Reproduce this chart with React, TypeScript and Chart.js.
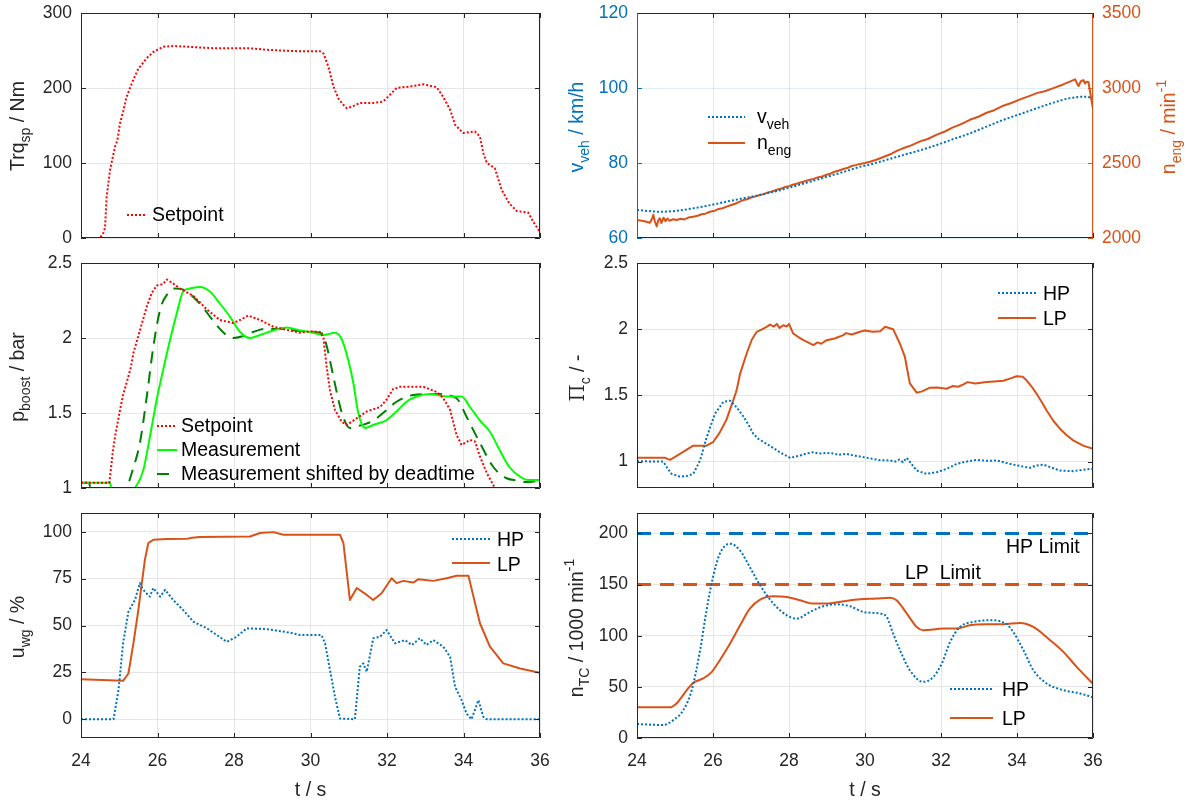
import React, { useEffect, useRef } from 'react';
import { Chart, registerables } from 'chart.js';
Chart.register(...registerables);

const FONT = '"Liberation Sans", Arial, Helvetica, sans-serif';
const AX = '#262626';
const GRID = '#E6E6E6';
const BLUE = '#0072BD';
const ORANGE = '#D95319';
const RED = '#FF0000';
const GREEN = '#00FF00';
const DKGREEN = '#008000';
const TICK_SIZE = 17.5;
const TEXT_SIZE = 19.5;

type P = [number, number];

const tTicks = [24, 26, 28, 30, 32, 34, 36];

// ---- Row 1 left: torque setpoint [t, Nm]
const trqSp: P[] = [[24,0],[24.5,0],[24.6,8],[24.63,15],[24.67,55],[24.76,91],[24.89,122],[24.95,130],[25.02,153],[25.1,168],[25.19,188],[25.28,200],[25.37,211],[25.5,226],[25.6,232],[25.72,240],[25.89,248],[26.0,251],[26.15,255],[26.41,256],[26.8,255],[27.11,254],[27.5,253],[27.98,253],[28.4,253],[28.85,251],[29.2,250],[29.73,249],[30.25,249],[30.34,246],[30.47,228],[30.6,202],[30.73,186],[30.85,178],[30.95,173],[31.08,175],[31.29,180],[31.64,180],[31.9,182],[32.08,191],[32.25,200],[32.6,202],[32.95,205],[33.3,201],[33.47,188],[33.65,171],[33.78,151],[33.99,140],[34.3,142],[34.43,135],[34.52,113],[34.61,100],[34.82,93],[35.0,64],[35.2,46],[35.39,36],[35.69,34],[35.82,22],[35.96,11],[36,8]];

// ---- Row 1 right: vehicle speed [km/h] and engine speed [1/min]
const vVeh: P[] = [[24,67.5],[24.6,67],[25.0,67.2],[25.47,67.9],[25.9,68.7],[26.36,69.7],[26.8,70.6],[27.24,71.5],[27.7,72.6],[28.1,73.7],[28.55,75.0],[28.99,76.3],[29.43,77.6],[29.87,79],[30.13,79.6],[30.55,80.8],[31.0,82.1],[31.45,83.4],[31.89,84.8],[32.3,86.3],[32.76,87.9],[33.2,89.7],[33.64,91.5],[34.1,93.1],[34.52,94.6],[34.96,96.1],[35.39,97.3],[35.83,97.7],[36,97]];
const nEng: P[] = [[24,2120],[24.2,2112],[24.34,2102],[24.4,2130],[24.43,2155],[24.47,2110],[24.52,2078],[24.56,2118],[24.6,2132],[24.64,2100],[24.7,2135],[24.75,2112],[24.8,2130],[24.86,2115],[24.95,2125],[25.04,2120],[25.15,2128],[25.25,2124],[25.35,2136],[25.48,2142],[25.6,2148],[25.7,2158],[25.8,2162],[25.92,2175],[26.05,2182],[26.15,2194],[26.25,2198],[26.36,2209],[26.5,2222],[26.6,2230],[26.7,2242],[26.8,2253],[26.9,2258],[27.0,2270],[27.1,2276],[27.24,2287],[27.35,2294],[27.45,2304],[27.55,2310],[27.68,2322],[27.8,2330],[27.9,2340],[28.0,2346],[28.1,2355],[28.2,2362],[28.3,2370],[28.42,2378],[28.55,2389],[28.65,2394],[28.75,2404],[28.87,2410],[28.99,2422],[29.1,2430],[29.2,2442],[29.3,2448],[29.43,2460],[29.55,2468],[29.65,2480],[29.75,2486],[29.87,2494],[30.0,2500],[30.13,2508],[30.3,2522],[30.5,2542],[30.7,2562],[30.85,2582],[31.0,2598],[31.2,2616],[31.45,2644],[31.65,2660],[31.89,2689],[32.1,2710],[32.3,2736],[32.5,2756],[32.76,2788],[33.0,2810],[33.2,2835],[33.4,2852],[33.64,2882],[33.85,2900],[34.1,2926],[34.3,2944],[34.52,2966],[34.75,2980],[34.96,2999],[35.2,3022],[35.39,3042],[35.53,3058],[35.58,3030],[35.62,3013],[35.68,3045],[35.75,3053],[35.79,3030],[35.83,3042],[35.88,3040],[36,2860]];

// ---- Row 2 left: boost pressure [bar]
const pSetpoint: P[] = [[24,1.035],[24.74,1.035],[24.78,1.12],[24.83,1.24],[24.89,1.342],[25.02,1.52],[25.1,1.62],[25.19,1.70],[25.3,1.8],[25.37,1.9],[25.54,2.05],[25.72,2.21],[25.85,2.30],[25.98,2.35],[26.15,2.36],[26.24,2.39],[26.37,2.37],[26.59,2.33],[26.94,2.28],[27.1,2.24],[27.29,2.19],[27.63,2.12],[27.98,2.10],[28.16,2.12],[28.37,2.15],[28.68,2.12],[29.03,2.075],[29.46,2.05],[29.73,2.035],[30.0,2.045],[30.25,2.04],[30.34,2.0],[30.42,1.81],[30.51,1.65],[30.64,1.52],[30.82,1.44],[30.95,1.42],[31.21,1.465],[31.47,1.51],[31.82,1.54],[31.99,1.59],[32.16,1.66],[32.34,1.675],[32.95,1.675],[33.3,1.64],[33.47,1.60],[33.65,1.52],[33.82,1.353],[33.95,1.287],[34.17,1.32],[34.3,1.31],[34.43,1.21],[34.61,1.1],[34.82,1.0],[35.0,0.9]];
const pMeas: P[] = [[24,1.035],[24.76,1.035],[24.8,0.99],[25.35,0.99],[25.41,1.0],[25.63,1.12],[25.8,1.34],[25.98,1.59],[26.15,1.79],[26.33,1.99],[26.5,2.16],[26.67,2.31],[26.85,2.33],[27.11,2.34],[27.37,2.31],[27.63,2.23],[27.9,2.14],[28.16,2.04],[28.42,2.0],[28.68,2.02],[29.03,2.05],[29.38,2.07],[29.73,2.05],[29.99,2.04],[30.34,2.02],[30.64,2.035],[30.82,1.99],[30.99,1.85],[31.12,1.70],[31.25,1.50],[31.43,1.40],[31.64,1.42],[31.99,1.453],[32.25,1.51],[32.51,1.575],[32.77,1.61],[33.12,1.627],[33.56,1.61],[33.95,1.61],[34.17,1.54],[34.43,1.45],[34.69,1.375],[34.95,1.25],[35.2,1.14],[35.48,1.075],[35.69,1.053],[36,1.053]];
const pShifted: P[] = [[24,1.035],[24.2,1.035],[24.28,0.98],[25.1,0.98],[25.19,1.0],[25.35,1.12],[25.54,1.30],[25.72,1.61],[25.89,1.94],[26.07,2.19],[26.28,2.30],[26.45,2.33],[26.7,2.32],[26.95,2.27],[27.2,2.2],[27.5,2.1],[27.8,2.02],[27.98,2.0],[28.2,2.01],[28.5,2.04],[28.8,2.06],[29.2,2.06],[29.6,2.05],[30.0,2.04],[30.3,2.03],[30.42,1.95],[30.6,1.74],[30.82,1.50],[31.03,1.40],[31.21,1.41],[31.64,1.45],[31.99,1.52],[32.25,1.575],[32.69,1.62],[33.3,1.627],[33.73,1.61],[33.85,1.59],[34.08,1.475],[34.43,1.30],[34.78,1.14],[35.13,1.065],[35.4,1.05],[35.65,1.04],[36,1.05]];

// ---- Row 2 right: compressor pressure ratio [-]
const piHP: P[] = [[24,1.002],[24.69,1.0],[24.8,0.95],[24.91,0.907],[25.13,0.886],[25.3,0.89],[25.48,0.907],[25.66,1.008],[25.83,1.18],[26.05,1.36],[26.27,1.45],[26.45,1.46],[26.62,1.41],[26.8,1.34],[26.95,1.27],[27.06,1.21],[27.2,1.17],[27.41,1.134],[27.6,1.1],[27.76,1.07],[28.03,1.028],[28.29,1.045],[28.45,1.06],[28.64,1.07],[28.8,1.06],[28.99,1.065],[29.2,1.06],[29.3,1.05],[29.52,1.058],[29.7,1.045],[29.87,1.038],[30.2,1.02],[30.4,1.01],[30.66,1.008],[30.8,1.0],[30.9,1.015],[31.0,0.995],[31.1,1.028],[31.2,0.99],[31.36,0.932],[31.62,0.907],[31.9,0.92],[32.15,0.945],[32.4,0.98],[32.59,0.995],[32.94,1.013],[33.2,1.005],[33.47,1.008],[33.7,0.99],[33.9,0.977],[34.1,0.965],[34.34,0.952],[34.5,0.97],[34.69,0.977],[34.9,0.955],[35.13,0.932],[35.48,0.927],[35.8,0.94],[36,0.945]];
const piLP: P[] = [[24,1.028],[24.74,1.028],[24.87,1.013],[25.13,1.058],[25.48,1.12],[25.83,1.12],[26.0,1.146],[26.18,1.22],[26.36,1.32],[26.53,1.46],[26.6,1.52],[26.63,1.55],[26.71,1.66],[26.89,1.82],[27.02,1.92],[27.15,1.98],[27.3,2.0],[27.41,2.018],[27.5,2.035],[27.6,2.02],[27.68,2.04],[27.75,2.01],[27.85,2.03],[27.94,2.02],[28.0,2.04],[28.11,1.967],[28.25,1.94],[28.38,1.917],[28.5,1.9],[28.64,1.88],[28.75,1.9],[28.85,1.89],[28.99,1.917],[29.2,1.93],[29.43,1.955],[29.5,1.97],[29.65,1.96],[29.87,1.98],[30.0,1.99],[30.2,1.98],[30.4,1.985],[30.53,2.018],[30.74,2.0],[30.92,1.89],[31.05,1.79],[31.18,1.59],[31.36,1.52],[31.5,1.53],[31.71,1.558],[31.9,1.56],[32.15,1.55],[32.3,1.57],[32.45,1.565],[32.59,1.583],[32.7,1.6],[32.9,1.59],[33.2,1.6],[33.4,1.605],[33.64,1.61],[33.85,1.63],[33.99,1.644],[34.15,1.64],[34.25,1.614],[34.4,1.56],[34.52,1.51],[34.65,1.45],[34.78,1.386],[34.95,1.31],[35.13,1.248],[35.3,1.2],[35.48,1.16],[35.74,1.12],[36,1.096]];

// ---- Row 3 left: wastegate position [%]
const uHP: P[] = [[24,0],[24.85,0],[24.98,15.5],[25.1,40.5],[25.24,57.4],[25.41,63.6],[25.54,72.6],[25.6,70],[25.67,68],[25.8,65.4],[25.89,70],[26.07,65.4],[26.2,69],[26.41,63.6],[26.67,58.3],[26.94,52],[27.29,48.5],[27.55,44.9],[27.81,41.3],[28.07,44],[28.33,48.5],[28.85,48.1],[29.46,46.2],[29.73,44.9],[30.29,44.9],[30.38,40.5],[30.51,26.2],[30.64,11.9],[30.77,0.4],[31.16,0],[31.29,28],[31.38,29.8],[31.47,25.3],[31.64,43.2],[31.82,44],[31.99,47.6],[32.21,40.5],[32.47,42.2],[32.65,39.6],[32.86,43.2],[33.03,39.6],[33.21,42.2],[33.47,38.7],[33.65,33.3],[33.78,17.3],[33.95,10.2],[34.08,3],[34.21,0],[34.39,10.2],[34.52,1.2],[34.61,0],[36,0]];
const uLP: P[] = [[24,21.4],[25.1,20.5],[25.24,24.4],[25.37,40.5],[25.5,58.3],[25.59,72.6],[25.67,85],[25.76,94],[25.89,95.7],[26.24,96.1],[26.76,96.2],[26.9,96.8],[27.11,97.2],[28.42,97.5],[28.68,99.3],[29.03,99.8],[29.29,98.4],[30.77,98.4],[30.86,94],[30.95,78],[31.03,63.6],[31.21,70],[31.47,66.3],[31.64,63.6],[31.86,67.2],[32.12,75.2],[32.25,72.6],[32.43,73.8],[32.69,72.9],[32.82,74.7],[33.21,73.8],[33.56,75.2],[33.82,76.5],[34.13,76.5],[34.26,65.4],[34.43,51.2],[34.69,38.7],[35.04,29.8],[35.48,27.1],[36,24.8]];

// ---- Row 3 right: turbocharger speed [1000/min]
const nHP: P[] = [[24,13.7],[24.69,12.7],[24.96,17.6],[25.22,27.3],[25.44,46.8],[25.66,85.9],[25.83,124.9],[26.0,157.4],[26.18,180.2],[26.45,190],[26.71,183.4],[26.97,167.1],[27.24,149.3],[27.59,131.4],[27.94,120],[28.2,116.7],[28.55,123.2],[28.9,128.8],[29.26,130.7],[29.61,128.8],[29.96,123.2],[30.39,121.7],[30.57,118.4],[30.74,102.1],[30.92,85.9],[31.18,66.3],[31.53,54.9],[31.8,59.8],[32.02,72.8],[32.24,94],[32.5,108.6],[32.85,113.5],[33.29,115.1],[33.73,111.2],[33.9,103.7],[34.17,85.9],[34.43,66.3],[34.78,53.3],[35.22,46.8],[35.66,43.6],[36,39.7]];
const nLP: P[] = [[24,30],[24.87,30],[25.04,33.8],[25.31,46.8],[25.48,54],[25.74,58.2],[25.97,64.7],[26.18,76.1],[26.45,92.4],[26.71,110],[26.97,126.5],[27.24,135.3],[27.59,138.5],[27.94,137.9],[28.29,134.6],[28.64,131.4],[28.99,131.4],[29.43,133.7],[29.87,135.6],[30.3,136.3],[30.66,137.2],[30.83,134.6],[31.1,121.7],[31.36,108.6],[31.54,105.4],[32.06,107],[32.41,107],[32.76,110.2],[33.2,111.2],[33.64,111.2],[34.08,112.5],[34.43,108.6],[34.87,95.6],[35.22,84.2],[35.57,69.6],[36,53]];
const hpLimit: P[] = [[24,200],[36,200]];
const lpLimit: P[] = [[24,150],[36,150]];

// ------------------------------------------------------------------
type Seg = { s: string; sub?: boolean; sup?: boolean; fam?: string };
interface Series { d: P[]; color: string; width: number; dash?: number[]; axis?: string; smooth?: boolean }
interface Leg { x1: number; x2: number; y: number; tx: number; ty: number; label: Seg[]; ds: number }
interface Note { x: number; y: number; segs: Seg[]; rot?: boolean; color: string; align?: 'left' | 'center' }
interface YCfg { min: number; max: number; ticks: number[]; color?: string; grid?: string }
interface Panel {
  left: number; top: number; width: number; height: number;
  yw: number; padRight: number; xh: number; showX: boolean;
  series: Series[]; y: YCfg; y2?: YCfg & { width: number };
  legend: Leg[]; notes: Note[];
  spineL?: string; spineR?: string;
}

function rich(ctx: CanvasRenderingContext2D, segs: Seg[], x: number, y: number, size: number, color: string, rot = false, align: 'left' | 'center' = 'center') {
  ctx.save();
  ctx.translate(x, y);
  if (rot) ctx.rotate(-Math.PI / 2);
  const small = Math.round(size * 0.72);
  const fontOf = (g: Seg) => `${g.sub || g.sup ? small : size}px ${g.fam || FONT}`;
  let w = 0;
  for (const g of segs) { ctx.font = fontOf(g); w += ctx.measureText(g.s).width; }
  let cx = align === 'center' ? -w / 2 : 0;
  ctx.fillStyle = color;
  ctx.textBaseline = 'alphabetic';
  ctx.textAlign = 'left';
  for (const g of segs) {
    ctx.font = fontOf(g);
    const dy = g.sub ? size * 0.32 : g.sup ? -size * 0.45 : 0;
    ctx.fillText(g.s, cx, dy);
    cx += ctx.measureText(g.s).width;
  }
  ctx.restore();
}

function build(canvas: HTMLCanvasElement, p: Panel) {
  const datasets = p.series.map((s) => ({
    data: s.d.map(([x, y]) => ({ x, y })),
    borderColor: s.color,
    borderWidth: s.width,
    borderDash: s.dash || [],
    borderCapStyle: 'butt',
    borderJoinStyle: 'round',
    pointRadius: 0,
    fill: false,
    tension: 0,
    cubicInterpolationMode: s.smooth ? 'monotone' : 'default',
    yAxisID: s.axis || 'y',
  }));
  const yScale = (cfg: YCfg, pos: string, width: number, gridOn: boolean) => ({
    type: 'linear',
    position: pos,
    min: cfg.min,
    max: cfg.max,
    afterBuildTicks: (s: any) => { s.ticks = cfg.ticks.map((v) => ({ value: v })); },
    afterFit: (s: any) => { s.width = width; s.paddingTop = 0; s.paddingBottom = 0; },
    ticks: { color: cfg.color || AX, font: { family: FONT, size: TICK_SIZE }, padding: 9, callback: (v: any) => String(v) },
    grid: { display: gridOn, color: cfg.grid || GRID, drawTicks: false },
    border: { display: false },
  });
  const scales: any = {
    x: {
      type: 'linear', min: 24, max: 36,
      afterBuildTicks: (s: any) => { s.ticks = tTicks.map((v) => ({ value: v })); },
      afterFit: (s: any) => { s.height = p.xh; s.paddingLeft = 0; s.paddingRight = 0; },
      ticks: { display: p.showX, color: AX, font: { family: FONT, size: TICK_SIZE }, padding: 13, maxRotation: 0, autoSkip: false, callback: (v: any) => String(v) },
      grid: { color: GRID, drawTicks: false },
      border: { display: false },
    },
    y: yScale(p.y, 'left', p.yw, true),
  };
  if (p.y2) scales.y2 = yScale(p.y2, 'right', p.y2.width, false);

  const deco = {
    id: 'deco',
    afterDraw(chart: any) {
      const ctx: CanvasRenderingContext2D = chart.ctx;
      const a = chart.chartArea;
      const L = a.left, R = a.right, T = a.top, B = a.bottom;
      ctx.save();
      ctx.lineWidth = 1;
      const xs = chart.scales.x;
      ctx.strokeStyle = AX;
      for (const v of tTicks) {
        const px = Math.round(xs.getPixelForValue(v)) + 0.5;
        ctx.beginPath();
        ctx.moveTo(px, B); ctx.lineTo(px, B - 5);
        ctx.moveTo(px, T); ctx.lineTo(px, T + 5);
        ctx.stroke();
      }
      const ys = chart.scales.y;
      for (const v of p.y.ticks) {
        const py = Math.round(ys.getPixelForValue(v)) + 0.5;
        ctx.strokeStyle = p.spineL || AX;
        ctx.beginPath(); ctx.moveTo(L, py); ctx.lineTo(L + 5, py); ctx.stroke();
        if (!p.y2) { ctx.strokeStyle = AX; ctx.beginPath(); ctx.moveTo(R, py); ctx.lineTo(R - 5, py); ctx.stroke(); }
      }
      if (p.y2) {
        const y2 = chart.scales.y2;
        ctx.strokeStyle = p.spineR || AX;
        for (const v of p.y2.ticks) {
          const py = Math.round(y2.getPixelForValue(v)) + 0.5;
          ctx.beginPath(); ctx.moveTo(R, py); ctx.lineTo(R - 5, py); ctx.stroke();
        }
      }
      const l = Math.round(L) + 0.5, r = Math.round(R) - 0.5, t = Math.round(T) + 0.5, b = Math.round(B) - 0.5;
      ctx.strokeStyle = AX;
      ctx.beginPath(); ctx.moveTo(l, t); ctx.lineTo(r, t); ctx.moveTo(l, b); ctx.lineTo(r, b); ctx.stroke();
      ctx.strokeStyle = p.spineL || AX;
      ctx.beginPath(); ctx.moveTo(l, t); ctx.lineTo(l, b); ctx.stroke();
      ctx.strokeStyle = p.spineR || AX;
      ctx.beginPath(); ctx.moveTo(r, t); ctx.lineTo(r, b); ctx.stroke();

      ctx.translate(-p.left, -p.top);
      for (const lg of p.legend) {
        const s = p.series[lg.ds];
        ctx.save();
        ctx.strokeStyle = s.color;
        ctx.lineWidth = s.width;
        ctx.setLineDash(s.dash || []);
        ctx.beginPath(); ctx.moveTo(lg.x1, lg.y); ctx.lineTo(lg.x2, lg.y); ctx.stroke();
        ctx.restore();
        rich(ctx, lg.label, lg.tx, lg.ty, TEXT_SIZE, '#000', false, 'left');
      }
      for (const n of p.notes) rich(ctx, n.segs, n.x, n.y, TEXT_SIZE, n.color, !!n.rot, n.align || 'center');
      ctx.restore();
    },
  };

  return new Chart(canvas, {
    type: 'line',
    data: { datasets } as any,
    options: {
      animation: false,
      responsive: false,
      maintainAspectRatio: false,
      events: [],
      layout: { padding: { left: 0, top: 13, right: p.padRight, bottom: 0 } },
      plugins: { legend: { display: false }, tooltip: { enabled: false } },
      scales,
    } as any,
    plugins: [deco],
  });
}

const LEFTCOL = { left: 0, width: 560, yw: 81, padRight: 20 };
const RIGHTCOL = { left: 560, width: 628, yw: 77, padRight: 95 };
const DOT = [2, 2];

const PANELS: Panel[] = [
  {
    ...LEFTCOL, top: 0, height: 250, xh: 12, showX: false,
    series: [{ d: trqSp, color: RED, width: 2, dash: DOT }],
    y: { min: 0, max: 300, ticks: [0, 100, 200, 300] },
    legend: [{ x1: 127, x2: 147, y: 215, tx: 152, ty: 221, label: [{ s: 'Setpoint' }], ds: 0 }],
    notes: [{ x: 24, y: 126, rot: true, color: AX, segs: [{ s: 'Trq' }, { s: 'sp', sub: true }, { s: ' / Nm' }] }],
  },
  {
    ...RIGHTCOL, padRight: 0, top: 0, height: 250, xh: 12, showX: false,
    series: [
      { d: vVeh, color: BLUE, width: 2, dash: DOT, smooth: true },
      { d: nEng, color: ORANGE, width: 2, axis: 'y2' },
    ],
    y: { min: 60, max: 120, ticks: [60, 80, 100, 120], color: BLUE, grid: 'rgba(0,114,189,0.13)' },
    y2: { min: 2000, max: 3500, ticks: [2000, 2500, 3000, 3500], color: ORANGE, width: 95 },
    spineL: BLUE, spineR: ORANGE,
    legend: [
      { x1: 708, x2: 745, y: 117, tx: 757, ty: 123, label: [{ s: 'v' }, { s: 'veh', sub: true }], ds: 0 },
      { x1: 708, x2: 745, y: 143, tx: 757, ty: 149, label: [{ s: 'n' }, { s: 'eng', sub: true }], ds: 1 },
    ],
    notes: [
      { x: 583, y: 127, rot: true, color: BLUE, segs: [{ s: 'v' }, { s: 'veh', sub: true }, { s: ' / km/h' }] },
      { x: 1175, y: 127, rot: true, color: ORANGE, segs: [{ s: 'n' }, { s: 'eng', sub: true }, { s: ' / min' }, { s: '-1', sup: true }] },
    ],
  },
  {
    ...LEFTCOL, top: 250, height: 250, xh: 12, showX: false,
    series: [
      { d: pSetpoint, color: RED, width: 2, dash: DOT },
      { d: pMeas, color: GREEN, width: 2, smooth: true },
      { d: pShifted, color: DKGREEN, width: 2, dash: [12, 8], smooth: true },
    ],
    y: { min: 1, max: 2.5, ticks: [1, 1.5, 2, 2.5] },
    legend: [
      { x1: 157, x2: 177, y: 426, tx: 181, ty: 432, label: [{ s: 'Setpoint' }], ds: 0 },
      { x1: 157, x2: 177, y: 450, tx: 181, ty: 456, label: [{ s: 'Measurement' }], ds: 1 },
      { x1: 157, x2: 177, y: 474, tx: 181, ty: 480, label: [{ s: 'Measurement shifted by deadtime' }], ds: 2 },
    ],
    notes: [{ x: 24, y: 377, rot: true, color: AX, segs: [{ s: 'p' }, { s: 'boost', sub: true }, { s: ' / bar' }] }],
  },
  {
    ...RIGHTCOL, top: 250, height: 250, xh: 12, showX: false,
    series: [
      { d: piHP, color: BLUE, width: 2, dash: DOT },
      { d: piLP, color: ORANGE, width: 2 },
    ],
    y: { min: 0.8, max: 2.5, ticks: [1, 1.5, 2, 2.5] },
    legend: [
      { x1: 998, x2: 1036, y: 293, tx: 1043, ty: 300, label: [{ s: 'HP' }], ds: 0 },
      { x1: 998, x2: 1036, y: 318, tx: 1043, ty: 325, label: [{ s: 'LP' }], ds: 1 },
    ],
    notes: [{ x: 584, y: 378, rot: true, color: AX, segs: [{ s: 'Π', fam: '"DejaVu Serif", serif' }, { s: 'c', sub: true }, { s: ' / -' }] }],
  },
  {
    ...LEFTCOL, top: 500, height: 300, xh: 62, showX: true,
    series: [
      { d: uHP, color: BLUE, width: 2, dash: DOT },
      { d: uLP, color: ORANGE, width: 2 },
    ],
    y: { min: -10, max: 110, ticks: [0, 25, 50, 75, 100] },
    legend: [
      { x1: 452, x2: 490, y: 539, tx: 497, ty: 546, label: [{ s: 'HP' }], ds: 0 },
      { x1: 452, x2: 490, y: 563, tx: 497, ty: 571, label: [{ s: 'LP' }], ds: 1 },
    ],
    notes: [
      { x: 24, y: 627, rot: true, color: AX, segs: [{ s: 'u' }, { s: 'wg', sub: true }, { s: ' / %' }] },
      { x: 310.5, y: 796, color: AX, segs: [{ s: 't / s' }] },
    ],
  },
  {
    ...RIGHTCOL, top: 500, height: 300, xh: 62, showX: true,
    series: [
      { d: nHP, color: BLUE, width: 2, dash: DOT, smooth: true },
      { d: nLP, color: ORANGE, width: 2, smooth: true },
      { d: hpLimit, color: BLUE, width: 3, dash: [14, 9] },
      { d: lpLimit, color: ORANGE, width: 3, dash: [14, 9] },
    ],
    y: { min: 0, max: 220, ticks: [0, 50, 100, 150, 200] },
    legend: [
      { x1: 950, x2: 993, y: 689, tx: 1002, ty: 696, label: [{ s: 'HP' }], ds: 0 },
      { x1: 950, x2: 993, y: 718, tx: 1002, ty: 725, label: [{ s: 'LP' }], ds: 1 },
    ],
    notes: [
      { x: 583, y: 628, rot: true, color: AX, segs: [{ s: 'n' }, { s: 'TC', sub: true }, { s: ' / 1000 min' }, { s: '-1', sup: true }] },
      { x: 865, y: 796, color: AX, segs: [{ s: 't / s' }] },
      { x: 1006, y: 553, color: '#000', align: 'left', segs: [{ s: 'HP Limit' }] },
      { x: 905, y: 579, color: '#000', align: 'left', segs: [{ s: 'LP  Limit' }] },
    ],
  },
];

export default function App() {
  const refs = useRef<(HTMLCanvasElement | null)[]>([]);
  useEffect(() => {
    const charts = PANELS.map((p, i) => build(refs.current[i] as HTMLCanvasElement, p));
    return () => charts.forEach((c) => c.destroy());
  }, []);
  return (
    <div style={{ position: 'absolute', left: 0, top: 0, width: 1188, height: 800, background: '#fff' }}>
      {PANELS.map((p, i) => (
        <canvas
          key={i}
          ref={(el) => { refs.current[i] = el; }}
          width={p.width}
          height={p.height}
          style={{ position: 'absolute', left: p.left, top: p.top, width: p.width, height: p.height }}
        />
      ))}
    </div>
  );
}
